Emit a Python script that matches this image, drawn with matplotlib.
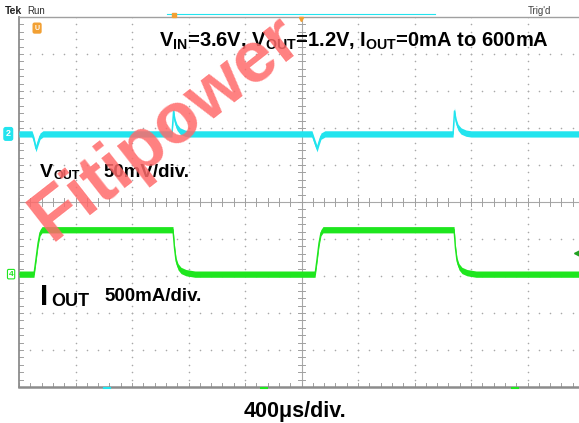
import matplotlib
matplotlib.use('Agg')
import matplotlib.pyplot as plt
import numpy as np
from matplotlib.lines import Line2D

plt.rcParams['font.family'] = ['Liberation Sans', 'DejaVu Sans']
plt.rcParams['mathtext.fontset'] = 'custom'
plt.rcParams['mathtext.bf'] = 'Liberation Sans:bold'
plt.rcParams['mathtext.rm'] = 'Liberation Sans:bold'

# scope settings
us_per_div = 400
mv_per_div = 50
ma_per_div = 500
vout_pos = 1.84    # ch2 ground marker (div from centre)
iout_pos = -1.95   # ch4 ground marker
trig_level_ma = 285

# CH2 - VOUT deviation (mV) vs time (us from left edge)
vout_t = [0, 92, 106, 120, 135, 149, 170,
          1083, 1094, 1104, 1119, 1140, 1175, 1211,
          2074, 2088, 2110, 2124, 2138, 2166,
          3073, 3083, 3094, 3108, 3129, 3165, 3200, 4000]
vout_mv = [0, 0, -8, -20, -11, -3, 0,
           0, 31, 17, 9, 4, 1, 0,
           0, -8, -20, -11, -3, 0,
           0, 31, 17, 9, 4, 1, 0, 0]

# CH4 - IOUT (mA) vs time (us)
iout_t = [0, 106, 120, 135, 149, 163,
          1090, 1101, 1112, 1126, 1147, 1182, 1246,
          2096, 2110, 2124, 2138, 2152,
          3080, 3090, 3101, 3115, 3136, 3172, 3236, 4000]
iout_ma = [0, 0, 200, 420, 560, 600,
           600, 350, 180, 100, 50, 20, 0,
           0, 200, 420, 560, 600,
           600, 350, 180, 100, 50, 20, 0, 0]

cyan = '#22e4ee'
green = '#1ee61e'
orange = '#f2a033'

W, H = 579, 423

def fx(x):
    return x / W

def fy(y):
    return 1 - y / H

fig = plt.figure(figsize=(W / 100, H / 100), dpi=100)
ax = fig.add_axes([fx(19), fy(387), 565 / W, 370 / H])
ax.set_xlim(0, 10)
ax.set_ylim(-5, 5)
ax.axis('off')

# graticule: dotted major lines, solid centre cross, frame with ticks
minor = np.arange(0, 10.01, 0.2)
minor_y = np.arange(-5, 5.01, 0.2)
for xi in range(1, 10):
    if xi != 5:
        ax.scatter(np.full(len(minor_y), xi), minor_y, s=1.3, color='#a8a8a8', lw=0, zorder=1)
for yi in range(-4, 5):
    if yi != 0:
        ax.scatter(minor, np.full(len(minor), yi), s=1.3, color='#a8a8a8', lw=0, zorder=1)

ax.axhline(0, color='#a8a8a8', lw=0.8, zorder=1)
ax.axvline(5, color='#a8a8a8', lw=0.8, zorder=1)
tk_x = 0.07
tk_y = 0.11
for m in minor:
    ax.plot([m, m], [-tk_y, tk_y], color='#a0a0a0', lw=0.7, zorder=1)
    ax.plot([m, m], [-5, -5 + tk_y], color='#a0a0a0', lw=0.7, zorder=1)
for m in minor_y:
    ax.plot([5 - tk_x, 5 + tk_x], [m, m], color='#a0a0a0', lw=0.7, zorder=1)
    ax.plot([0, tk_x], [m, m], color='#a0a0a0', lw=0.7, zorder=1)

ax.plot([0, 0], [-5, 5], color='#8c8c8c', lw=1.3, clip_on=False, zorder=2)
ax.plot([0, 10], [-5, -5], color='#8c8c8c', lw=1.8, clip_on=False, zorder=2)
ax.plot([0, 10], [5, 5], color='#a0a0a0', lw=1.0, clip_on=False, zorder=2)

# traces (persistence band)
xv = np.array(vout_t) / us_per_div
yv = vout_pos + np.array(vout_mv) / mv_per_div
xi_ = np.array(iout_t) / us_per_div
yi_ = iout_pos + np.array(iout_ma) / ma_per_div
hb = 0.085
ax.fill_between(xv, yv - hb, yv + hb, color=cyan, lw=0, zorder=3)
ax.plot(xv, yv, color=cyan, lw=1.0, zorder=3)
ax.fill_between(xi_, yi_ - hb, yi_ + hb, color=green, lw=0, zorder=3)
ax.plot(xi_, yi_, color=green, lw=1.0, zorder=3)

# channel markers
ax.text(-0.19, vout_pos, '2', fontsize=6.5, color='white', weight='bold', ha='center', va='center',
        clip_on=False, zorder=5,
        bbox=dict(boxstyle='round,pad=0.2', fc=cyan, ec=cyan))
ax.text(-0.14, iout_pos, '4', fontsize=6, color=green, weight='bold', ha='center', va='center',
        clip_on=False, zorder=5,
        bbox=dict(boxstyle='round,pad=0.15', fc='white', ec=green, lw=0.8))
ax.plot([9.88], [iout_pos + trig_level_ma / ma_per_div], marker='<', ms=4, color='#22a022',
        clip_on=False, zorder=5)
ax.text(0.32, 4.7, 'U', fontsize=5, color='white', weight='bold', ha='center', va='center', zorder=5,
        bbox=dict(boxstyle='round,pad=0.2', fc=orange, ec=orange))

# record view bar at top
fig.add_artist(Line2D([fx(167), fx(435)], [fy(14), fy(14)], color=cyan, lw=0.8))
fig.add_artist(Line2D([fx(174)], [fy(15)], marker='s', ms=3.5, color=orange))
fig.add_artist(Line2D([fx(301)], [fy(19.5)], marker='v', ms=3, color=orange))
# small marks on bottom edge
for px_, c in [(107, cyan), (264, green), (515, green)]:
    fig.add_artist(Line2D([fx(px_ - 3), fx(px_ + 3)], [fy(388), fy(388)], color=c, lw=1.5))

fig.text(fx(5), fy(14), 'Tek', fontsize=7.5, weight='bold', color='#202020', va='baseline')
fig.text(fx(27), fy(14), 'Run', fontsize=7, color='#303030', va='baseline')
fig.text(fx(528), fy(14), "Trig'd", fontsize=7, color='#404040', va='baseline')

# annotations
fig.text(fx(354), fy(46.5), r'V$_\mathbf{IN}$=3.6V, V$_\mathbf{OUT}$=1.2V, I$_\mathbf{OUT}$=0mA to 600mA',
         fontsize=14.5, weight='bold', ha='center', va='baseline')
fig.text(fx(40), fy(177), 'V', fontsize=14, weight='bold', va='baseline')
fig.text(fx(53), fy(179), 'OUT', fontsize=9, weight='bold', va='baseline')
fig.text(fx(103), fy(176.7), '50mV/div.', fontsize=13.5, weight='bold', va='baseline')
fig.text(fx(40), fy(305), 'I', fontsize=21, weight='bold', va='baseline')
fig.text(fx(51), fy(306), 'OUT', fontsize=13, weight='bold', va='baseline')
fig.text(fx(104), fy(301), '500mA/div.', fontsize=13.5, weight='bold', va='baseline')
fig.text(fx(295.5), fy(417), '400\u03bcs/div.', fontsize=15.5, weight='bold', ha='center', va='baseline')

# watermark
fig.text(fx(166), fy(128), 'Fitipower', fontsize=52, weight='bold', color='#ff6a6a', alpha=0.85,
         rotation=38, ha='center', va='center', rotation_mode='anchor', zorder=10)

fig.savefig('out.png', dpi=100)
